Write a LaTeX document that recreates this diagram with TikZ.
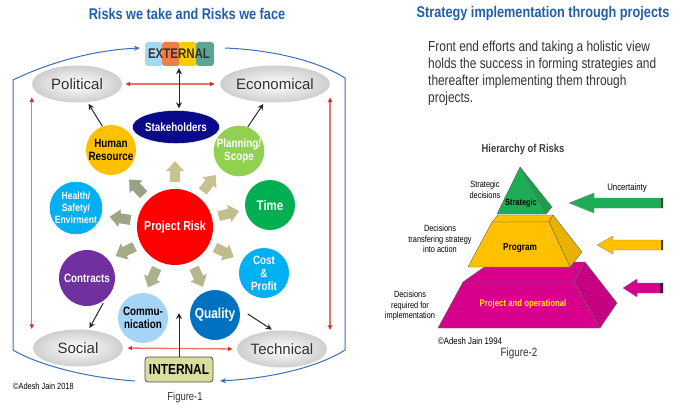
\documentclass[tikz,border=0pt]{standalone}
\usepackage{fontspec}
\setmainfont{Liberation Sans}
\newfontfamily\narrowfont[FakeStretch=0.82]{Liberation Sans}
\usetikzlibrary{arrows.meta,positioning,shapes.geometric}
\definecolor{titleblue}{HTML}{1F5FAD}
\definecolor{frameblue}{HTML}{3A6FB8}
\definecolor{linkred}{HTML}{E5746E}
\definecolor{tipred}{HTML}{DD2B22}
\definecolor{khaki}{HTML}{C9C28F}
\definecolor{sage}{HTML}{97A386}
\definecolor{extblue}{HTML}{A3D9F0}
\definecolor{extorange}{HTML}{EE7F42}
\definecolor{extyellow}{HTML}{FFCB0A}
\definecolor{extteal}{HTML}{5BA593}
\definecolor{intfill}{HTML}{D8DE9E}
\definecolor{stakenavy}{HTML}{0A0A8A}
\definecolor{hrgold}{HTML}{FFC000}
\definecolor{planlime}{HTML}{92D050}
\definecolor{hsecyan}{HTML}{00B0F0}
\definecolor{timegreen}{HTML}{00B050}
\definecolor{contrpurple}{HTML}{7030A0}
\definecolor{commblue}{HTML}{A6D4F7}
\definecolor{qualblue}{HTML}{0070C0}
\definecolor{pyrgreen}{HTML}{1DAE55}
\definecolor{pyryellow}{HTML}{FFC000}
\definecolor{pyrpink}{HTML}{D6008C}

\begin{document}
\begin{tikzpicture}[x=1pt,y=-1pt,
  title/.style={font=\narrowfont\bfseries\fontsize{15.5}{18}\selectfont,text=titleblue},
  face/.style={ellipse,minimum width=90pt,minimum height=37pt,inner sep=0pt,inner color=white,outer color=gray!38,text=black!80,font=\fontsize{15}{18}\selectfont},
  riskball/.style={circle,minimum size=50pt,inner sep=0pt,align=center,text=white,font=\narrowfont\bfseries\fontsize{12}{13.5}\selectfont},
  redarr/.style={{Latex[length=5pt,width=5pt,color=tipred]}-{Latex[length=5pt,width=5pt,color=tipred]},linkred,line width=1.3pt},
  blkarr/.style={-{Stealth[length=6pt,width=6pt]},line width=1pt,black!85},
  framearr/.style={-{Stealth[length=6pt,width=5pt]},frameblue,line width=1pt},
  note/.style={font=\narrowfont\fontsize{9}{10.5}\selectfont,align=center,inner sep=0pt},
  slab/.style={draw=black!60,line width=0.4pt,line join=round}
]
\useasboundingbox (0,0) rectangle (682,417);

\node[title] (ttl1) at (187,14) {Risks we take and Risks we face};
\node[face] (pol) at (77,84) {Political};
\node[face] (eco) at (275,84) {Economical};
\node[face] (soc) at (78,348) {Social};
\node[face] (tec) at (282,349) {Technical};

\foreach \c [count=\i from 0] in {extblue,extorange,extyellow,extteal}
  \fill[\c,rounded corners=3pt] (145+17*\i,42) rectangle ++(18,24);
\node[minimum width=68pt,minimum height=24pt,inner sep=0pt,text=black!80,
  font=\narrowfont\bfseries\fontsize{14}{16}\selectfont] (ext) at (179,54) {EXTERNAL};
\node[draw=black!70,line width=0.8pt,fill=intfill,rounded corners=3pt,minimum width=68pt,
  minimum height=25pt,inner sep=0pt,font=\narrowfont\bfseries\fontsize{14.5}{16}\selectfont] (int) at (179,369.5) {INTERNAL};

\node[ellipse,fill=stakenavy,draw=white,minimum width=68pt,minimum height=33pt,inner sep=0pt,text=white,
  font=\narrowfont\bfseries\fontsize{12}{14}\selectfont] (stk) at (176,127) {Stakeholders};
\node[riskball,fill=hrgold,text=black] (hr) at (111,150) {Human\\Resource};
\node[riskball,fill=planlime] (plan) at (239,151) {Planning/\\Scope};
\node[riskball,fill=hsecyan,font=\narrowfont\bfseries\fontsize{10.5}{12}\selectfont] (hse) at (76,208) {Health/\\Safety/\\Envirment};
\node[riskball,fill=timegreen,font=\narrowfont\bfseries\fontsize{14}{16}\selectfont] (time) at (270,205) {Time};
\node[riskball,fill=contrpurple,minimum size=56pt] (ctr) at (87,278) {Contracts};
\node[riskball,fill=hsecyan,font=\narrowfont\bfseries\fontsize{12}{13}\selectfont] (cost) at (264,273) {Cost\\\&\\Profit};
\node[riskball,fill=commblue,text=black] (comm) at (143,318) {Commu-\\nication};
\node[riskball,fill=qualblue,font=\narrowfont\bfseries\fontsize{14.5}{16}\selectfont] (qual) at (215,315) {Quality};
\node[riskball,fill=red,minimum size=76pt,font=\narrowfont\bfseries\fontsize{13}{15}\selectfont] (prisk) at (175,227) {Project Risk};

\foreach \ang/\mix in {90/100,52/96,14/88,-27/78,-65/62,-114/45,-154/25,171/10,134/0}
  \fill[khaki!\mix!sage,shift={(prisk.center)},rotate=\ang,shift={(56pt,0pt)}]
    (-11pt,-5pt) -- (0pt,-5pt) -- (0pt,-9pt) -- (10pt,0pt) -- (0pt,9pt) -- (0pt,5pt) -- (-11pt,5pt) -- cycle;

\draw[redarr,shorten <=3pt,shorten >=5pt] (pol.east) -- (eco.west);
\draw[redarr,shorten <=4pt,shorten >=4pt] (soc.east) -- (tec.west);
\coordinate (lt) at ([yshift=-13pt]pol.west);
\coordinate (rt) at ([yshift=-13pt]eco.east);
\draw[redarr] (lt) -- (lt |- soc.north);
\draw[redarr] (rt) -- (rt |- tec.north);

\draw[{Stealth[length=6pt,width=6pt]}-{Stealth[length=6pt,width=6pt]},line width=1pt,black!85,
  shorten <=2pt,shorten >=2pt] (ext.south) -- (ext.south |- stk.north);
\draw[blkarr,shorten >=2pt] (hr.110) -- (pol.-60);
\draw[blkarr,shorten >=2pt] (plan.70) -- (eco.240);
\draw[blkarr,shorten <=4pt,shorten >=2pt] (ctr.-50) -- (soc.60);
\draw[blkarr,shorten <=10pt,shorten >=2pt] (qual.15) -- (tec.115);
\coordinate (intup) at (179,313);
\draw[blkarr] (int.north) -- (intup);

\coordinate (extin) at (140,48);
\coordinate (extout) at (225,48);
\coordinate (intout) at (135,381);
\coordinate (intin) at (220,381);
\draw[framearr] (intout) .. controls (90,378) and (40,366) .. (13,350) -- (13,80)
  .. controls (50,62) and (95,50) .. (extin);
\draw[framearr] (extout) .. controls (275,50) and (320,62) .. (345,78) -- (345,350)
  .. controls (320,366) and (275,378) .. (intin);

\node[font=\narrowfont\fontsize{9}{11}\selectfont,anchor=west,inner sep=0pt] (cp1) at (13,386) {\textcopyright Adesh Jain 2018};
\node[font=\narrowfont\fontsize{11.5}{13}\selectfont,text=black!80] (fig1) at (185,398) {Figure-1};

\node[title] (ttl2) at (543,14) {Strategy implementation through projects};
\node[anchor=north west,align=left,inner sep=0pt,text=black!80,
  font=\narrowfont\fontsize{14.5}{17}\selectfont] (intro) at (428,41)
  {Front end efforts and taking a holistic view\\holds the success in forming strategies and\\thereafter implementing them through\\projects.};
\node[font=\narrowfont\bfseries\fontsize{11.5}{13}\selectfont,text=black!75] (hier) at (523,150) {Hierarchy of Risks};

\filldraw[slab,fill=pyrpink] (463,282) -- (490,263) -- (585,262) -- (574,282) -- cycle;
\filldraw[slab,fill=pyrpink!92!black] (574,282) -- (585,262) -- (617,303) -- (600,328) -- cycle;
\filldraw[slab,fill=pyrpink] (463,282) -- (574,282) -- (600,328) -- (438,328) -- cycle;
\filldraw[slab,fill=pyryellow] (492,222) -- (498,215) -- (553,215) -- (549,222) -- cycle;
\filldraw[slab,fill=pyryellow!92!black] (549,222) -- (553,215) -- (582,252) -- (570,267) -- cycle;
\filldraw[slab,fill=pyryellow] (492,222) -- (549,222) -- (570,267) -- (468,267) -- cycle;
\filldraw[slab,fill=pyrgreen!90!black] (520,167) -- (546,214) -- (552,207) -- cycle;
\filldraw[slab,fill=pyrgreen] (520,167) -- (497,214) -- (546,214) -- cycle;

\node[font=\narrowfont\bfseries\fontsize{9}{10}\selectfont] (lvl1) at (521,203) {Strategic};
\node[font=\narrowfont\bfseries\fontsize{10}{12}\selectfont] (lvl2) at (520,248) {Program};
\node[font=\narrowfont\bfseries\fontsize{9.5}{11}\selectfont,text=yellow] (lvl3) at (523,304) {Project and operational};

\node[note] (d1) at (485,190) {Strategic\\decisions};
\node[note] (d2) at (440,239) {Decisions\\transfering strategy\\into action};
\node[note] (d3) at (410,306) {Decisions\\required for\\implementation};

\filldraw[fill=pyrgreen,draw=black!50,line width=0.3pt] (569,203) -- (594,193) -- (594,198) -- (663,198) -- (663,208) -- (594,208) -- (594,213) -- cycle;
\fill[black!75] (661,198) rectangle (663,208);
\filldraw[fill=pyryellow,draw=black!50,line width=0.3pt] (597,245) -- (613,236) -- (613,240) -- (663,240) -- (663,250) -- (613,250) -- (613,254) -- cycle;
\fill[black!75] (661,240) rectangle (663,250);
\filldraw[fill=pyrpink,draw=black!50,line width=0.3pt] (623,288) -- (637,279) -- (637,283) -- (663,283) -- (663,293) -- (637,293) -- (637,297) -- cycle;
\fill[black!60!pyrpink] (660,283) rectangle (663,293);
\node[font=\narrowfont\fontsize{9.5}{11}\selectfont] (unc) at (627,188) {Uncertainty};

\node[font=\narrowfont\fontsize{9.5}{11}\selectfont,anchor=west,inner sep=0pt] (cp2) at (438,341) {\textcopyright Adesh Jain 1994};
\node[font=\narrowfont\fontsize{12}{14}\selectfont,text=black!80] (fig2) at (519,353) {Figure-2};
\end{tikzpicture}
\end{document}
